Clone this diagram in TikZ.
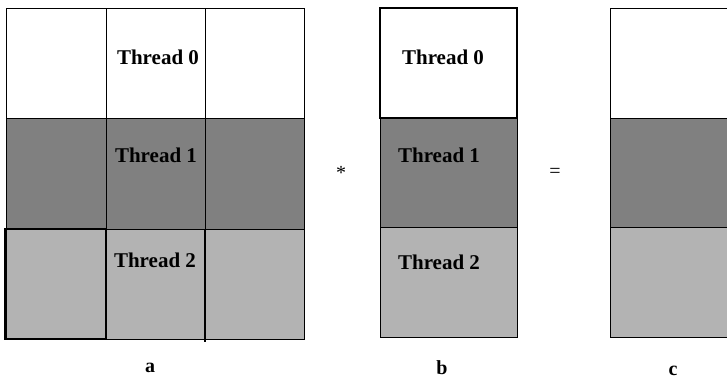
\documentclass[tikz,border=0pt]{standalone}
\usepackage{fontspec}
\setmainfont{Liberation Serif}
\definecolor{darkband}{HTML}{808080}
\definecolor{lightband}{HTML}{B3B3B3}
\begin{document}
\begin{tikzpicture}[x=1pt,y=1pt,
  cell/.style={draw=black,line width=0.9pt},
  heavy/.style={draw=black,line width=1.8pt},
  lbl/.style={font=\fontsize{21}{24}\selectfont\bfseries,inner sep=0pt},
  partname/.style={font=\fontsize{20}{24}\selectfont\bfseries,inner sep=0pt},
  op/.style={font=\fontsize{20}{24}\selectfont,inner sep=0pt}]
\useasboundingbox (0,0) rectangle (727,379);
\clip (0,0) rectangle (727,379);
\fill[white] (0,0) rectangle (727,379);

% matrix a: three rows of three cells
\foreach \xa/\xb in {6/106,106/205,205/304}{
  \filldraw[cell,fill=white]     (\xa,371) rectangle (\xb,261);
  \filldraw[cell,fill=darkband]  (\xa,261) rectangle (\xb,150);
  \filldraw[cell,fill=lightband] (\xa,150) rectangle (\xb,40);
}
\draw[heavy] (5,150) rectangle (106,40);
\draw[heavy] (205,150) -- (205,37);
\node[lbl] (a0) at (158,322) {Thread 0};
\node[lbl] (a1) at (156,224) {Thread 1};
\node[lbl] (a2) at (155,119) {Thread 2};
\node[partname] (capa) at (150,11) {a};

% operator
\node[op] (times) at (341,206) {*};

% vector b
\filldraw[cell,fill=darkband]  (380,261) rectangle (517,152);
\filldraw[cell,fill=lightband] (380,152) rectangle (517,42);
\filldraw[heavy,fill=white]    (380,371) rectangle (517,261);
\node[lbl] (b0) at (443,322) {Thread 0};
\node[lbl] (b1) at (439,224) {Thread 1};
\node[lbl] (b2) at (439,117) {Thread 2};
\node[partname] (capb) at (442,11) {b};

% operator
\node[op] (equals) at (555,206) {=};

% result c
\filldraw[cell,fill=white]     (610,371) rectangle (740,261);
\filldraw[cell,fill=darkband]  (610,261) rectangle (740,152);
\filldraw[cell,fill=lightband] (610,152) rectangle (740,42);
\node[partname] (capc) at (673,8) {c};
\end{tikzpicture}
\end{document}
